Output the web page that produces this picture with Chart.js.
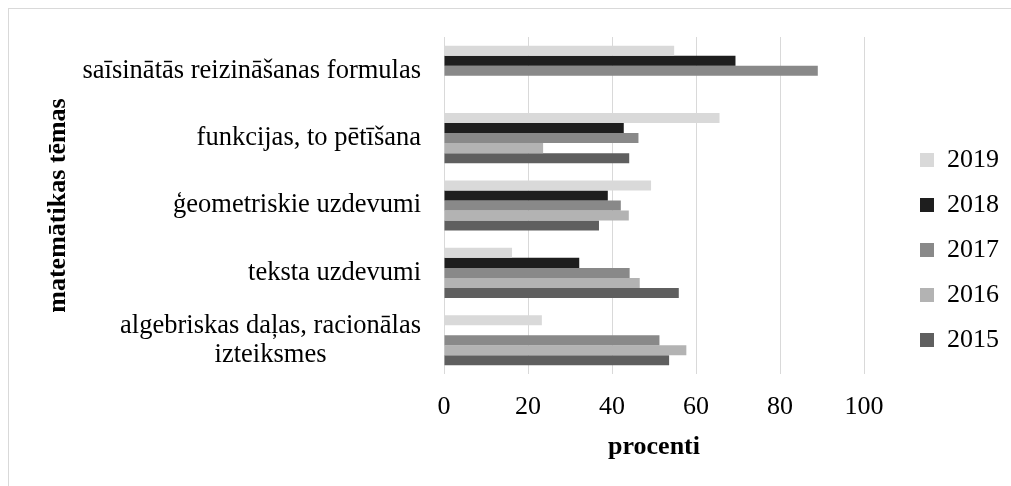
<!DOCTYPE html>
<html>
<head>
<meta charset="utf-8">
<script src="https://cdn.jsdelivr.net/npm/chart.js@4.4.1/dist/chart.umd.min.js"></script>
<style>
    html, body { margin: 0; padding: 0; background: #fff; overflow: hidden; }
    #frame { position: absolute; left: 8px; top: 8px; width: 1100px; height: 600px;
             border-top: 1px solid #d9d9d9; border-left: 1px solid #d9d9d9; }
    #wrap { position: absolute; left: 0; top: 0; width: 1011px; height: 486px; }
</style>
</head>
<body>
<div id="frame"></div>
<div id="wrap"><canvas id="chart"></canvas></div>
<script>
// categories (multi-line labels as arrays)
const topics = [
    ["saīsinātās reizināšanas formulas"],
    ["funkcijas, to pētīšana"],
    ["ģeometriskie uzdevumi"],
    ["teksta uzdevumi"],
    ["algebriskas daļas, racionālas", "izteiksmes"]
];
const years = ["2019", "2018", "2017", "2016", "2015"];

// percent values per year, same order as topics
const values2019 = [54.8, 65.6, 49.3, 16.2, 23.3];
const values2018 = [69.4, 42.8, 39.0, 32.2, null];
const values2017 = [89.0, 46.3, 42.1, 44.2, 51.3];
const values2016 = [null, 23.6, 44.0, 46.6, 57.7];
const values2015 = [null, 44.1, 36.9, 55.9, 53.6];

const xTicks = [0, 20, 40, 60, 80, 100];
const colors = ["#d9d9d9", "#1e1e1e", "#898989", "#b3b3b3", "#5f5f5f"];

const serif = '"Liberation Serif", "Times New Roman", serif';

// draws the topic labels: first line right-aligned, extra lines centred under it
const topicLabels = {
    id: "topicLabels",
    afterDraw(chart) {
        const y = chart.scales.y;
        const ctx = chart.ctx;
        const right = y.right - 23;
        const lh = 29;
        ctx.save();
        ctx.font = "26.5px " + serif;
        ctx.fillStyle = "#000";
        ctx.textBaseline = "middle";
        topics.forEach((lines, i) => {
            const cy = y.getPixelForValue(i);
            const firstW = ctx.measureText(lines[0]).width;
            lines.forEach((line, j) => {
                const ly = cy + (j - (lines.length - 1) / 2) * lh;
                if (j === 0) {
                    ctx.textAlign = "right";
                    ctx.fillText(line, right, ly);
                } else {
                    ctx.textAlign = "center";
                    ctx.fillText(line, right - firstW / 2, ly);
                }
            });
        });
        ctx.restore();
    }
};

const seriesValues = [values2019, values2018, values2017, values2016, values2015];

new Chart(document.getElementById("chart"), {
    type: "bar",
    data: {
        labels: topics,
        datasets: years.map((yr, i) => ({
            label: yr,
            data: seriesValues[i],
            backgroundColor: colors[i],
            borderWidth: 0,
            barPercentage: 1,
            categoryPercentage: 0.744
        }))
    },
    options: {
        indexAxis: "y",
        responsive: true,
        maintainAspectRatio: false,
        animation: false,
        devicePixelRatio: 1,
        layout: { padding: { top: 37, bottom: 23, left: 0, right: 2 } },
        plugins: {
            tooltip: { enabled: false },
            legend: {
                position: "right",
                align: "center",
                labels: {
                    font: { family: serif, size: 26 },
                    color: "#000",
                    boxWidth: 14,
                    boxHeight: 14,
                    padding: 19
                }
            }
        },
        scales: {
            x: {
                min: 0,
                max: 100,
                afterBuildTicks: (scale) => {
                    scale.ticks = xTicks.map(v => ({ value: v }));
                },
                afterFit: (scale) => { scale.height = 89; },
                ticks: {
                    font: { family: serif, size: 26 },
                    color: "#000",
                    padding: 18
                },
                grid: { color: "#d9d9d9", lineWidth: 1, drawTicks: false },
                border: { display: false },
                title: {
                    display: true,
                    text: "procenti",
                    font: { family: serif, size: 26, weight: "bold" },
                    color: "#000",
                    padding: { top: 0, bottom: 0 }
                }
            },
            y: {
                ticks: { display: false },
                grid: { display: false },
                border: { display: false },
                afterFit: (scale) => { scale.width = 444; },
                title: {
                    display: true,
                    text: "matemātikas tēmas",
                    font: { family: serif, size: 26, weight: "bold" },
                    color: "#000",
                    padding: { top: 43, bottom: 0 }
                }
            },
            // empty spacer between the plot and the legend
            gap: {
                type: "category",
                position: "right",
                ticks: { display: false },
                grid: { display: false },
                border: { display: false },
                afterFit: (scale) => { scale.width = 37; }
            }
        }
    },
    plugins: [topicLabels]
});
</script>
</body>
</html>
